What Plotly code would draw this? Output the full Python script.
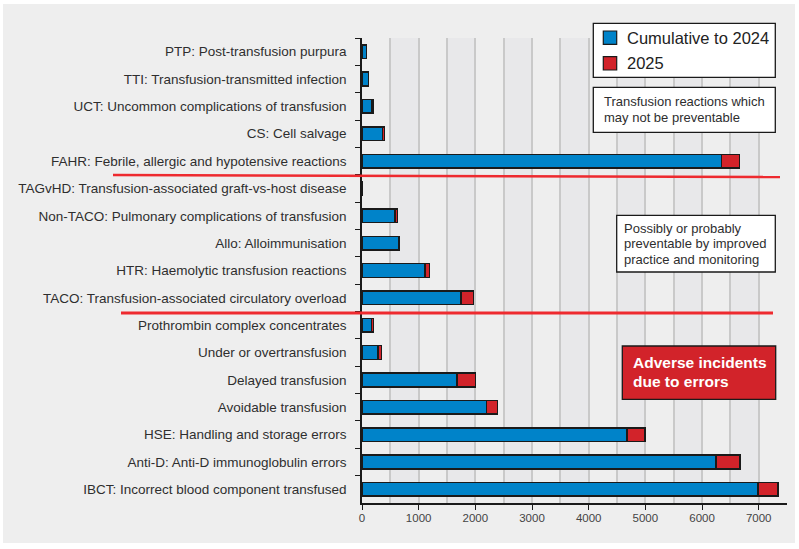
import plotly.graph_objects as go

# Data (top to bottom as shown)
categories = [
    "PTP: Post-transfusion purpura",
    "TTI: Transfusion-transmitted infection",
    "UCT: Uncommon complications of transfusion",
    "CS: Cell salvage",
    "FAHR: Febrile, allergic and hypotensive reactions",
    "TAGvHD: Transfusion-associated graft-vs-host disease",
    "Non-TACO: Pulmonary complications of transfusion",
    "Allo: Alloimmunisation",
    "HTR: Haemolytic transfusion reactions",
    "TACO: Transfusion-associated circulatory overload",
    "Prothrombin complex concentrates",
    "Under or overtransfusion",
    "Delayed transfusion",
    "Avoidable transfusion",
    "HSE: Handling and storage errors",
    "Anti-D: Anti-D immunoglobulin errors",
    "IBCT: Incorrect blood component transfused",
]
cumulative_2024 = [78, 113, 180, 360, 6343, 13, 583, 654, 1114, 1750,
                   165, 283, 1680, 2198, 4673, 6247, 6990]
year_2025 = [0, 0, 20, 36, 318, 0, 42, 0, 77, 213,
             36, 60, 320, 195, 319, 424, 353]
series_names = ["Cumulative to 2024", "2025"]

BLUE = "#0083c9"
RED = "#d2232a"
FONT = "Liberation Sans, Arial, Helvetica, sans-serif"
TXT = "#2e2e2e"

# plot area in pixels
L, R, T, B = 362, 787, 38, 503
W, H = 799, 549


def px(x):
    return (x - L) / (R - L)


def py(y):
    return (B - y) / (B - T)


fig = go.Figure()
fig.add_trace(go.Bar(y=categories, x=cumulative_2024, orientation="h", name=series_names[0],
                     marker=dict(color=BLUE, line=dict(color="#1a1a1a", width=1.5))))
fig.add_trace(go.Bar(y=categories, x=year_2025, orientation="h", name=series_names[1],
                     marker=dict(color=RED, line=dict(color="#1a1a1a", width=1.5))))

shapes = []
# background panel
shapes.append(dict(type="rect", xref="paper", yref="paper", x0=px(3), x1=px(795), y0=py(543), y1=py(4),
                   fillcolor="#eeeeee", line=dict(width=0), layer="below"))
# alternating bands
for s in range(500, 7500, 1000):
    shapes.append(dict(type="rect", xref="x", yref="paper", x0=s, x1=s + 500, y0=0, y1=1,
                       fillcolor="#e8e8ea", line=dict(width=0), layer="below"))
# red divider lines
shapes.append(dict(type="line", xref="paper", yref="paper", x0=px(113), y0=py(175), x1=px(780), y1=py(177),
                   line=dict(color="#ee2a2f", width=2.5)))
shapes.append(dict(type="line", xref="paper", yref="paper", x0=px(121), y0=py(313), x1=px(773), y1=py(313),
                   line=dict(color="#ee2a2f", width=3)))


def box(x0, y0, x1, y1, fill, lw=1.3):
    shapes.append(dict(type="rect", xref="paper", yref="paper", x0=px(x0), x1=px(x1), y0=py(y1), y1=py(y0),
                       fillcolor=fill, line=dict(color="#1a1a1a", width=lw)))


box(593.3, 23.3, 775.3, 77.3, "white")
box(603.3, 31, 616.7, 44.3, BLUE, 1.2)
box(603.3, 56.7, 616.7, 70, RED, 1.2)
box(593.3, 87.3, 775.3, 132.3, "white")
box(616.7, 215.3, 775.3, 272, "white")
box(622.3, 346, 775.7, 399.3, RED, 1.3)

annotations = []


def text(x, y, s, size, color=TXT, bold=False):
    annotations.append(dict(xref="paper", yref="paper", x=px(x), y=py(y), text=("<b>%s</b>" % s) if bold else s,
                            showarrow=False, xanchor="left", yanchor="middle",
                            font=dict(family=FONT, size=size, color=color)))


text(625, 38.3, series_names[0], 16.5, "#222222")
text(625, 63.5, series_names[1], 16.5, "#222222")
text(601.5, 101.7, "Transfusion reactions which", 13)
text(601.5, 117.3, "may not be preventable", 13)
text(621.5, 228.3, "Possibly or probably", 13)
text(621.5, 243.5, "preventable by improved", 13)
text(621.5, 259.3, "practice and monitoring", 13)
text(631, 362.3, "Adverse incidents", 15.5, "white", True)
text(631, 381.7, "due to errors", 15.5, "white", True)

fig.update_layout(
    width=W, height=H,
    margin=dict(l=L, r=W - R, t=T, b=H - B, pad=0),
    paper_bgcolor="white",
    plot_bgcolor="#efefef",
    barmode="stack",
    bargap=0.5,
    showlegend=False,
    shapes=shapes,
    annotations=annotations,
    font=dict(family=FONT, color=TXT),
    xaxis=dict(range=[0, 7499], dtick=1000, tick0=0, showgrid=True, gridcolor="#c9c9c9", gridwidth=1.5,
               minor=dict(dtick=500, showgrid=True, gridcolor="#c9c9c9", gridwidth=1.5),
               ticks="outside", ticklen=5, tickcolor="#1a1a1a", showline=True, linecolor="#1a1a1a",
               linewidth=1.5, zeroline=False, tickfont=dict(size=11.5, color="#444444"),
               ticklabelstandoff=-2),
    yaxis=dict(type="category", autorange="reversed", tickson="boundaries", ticks="outside", ticklen=5,
               tickcolor="#1a1a1a", showline=True, linecolor="#1a1a1a", linewidth=1.5, showgrid=False,
               tickfont=dict(size=13.5, color=TXT), ticklabelstandoff=11),
)

fig.write_html("out.html")
